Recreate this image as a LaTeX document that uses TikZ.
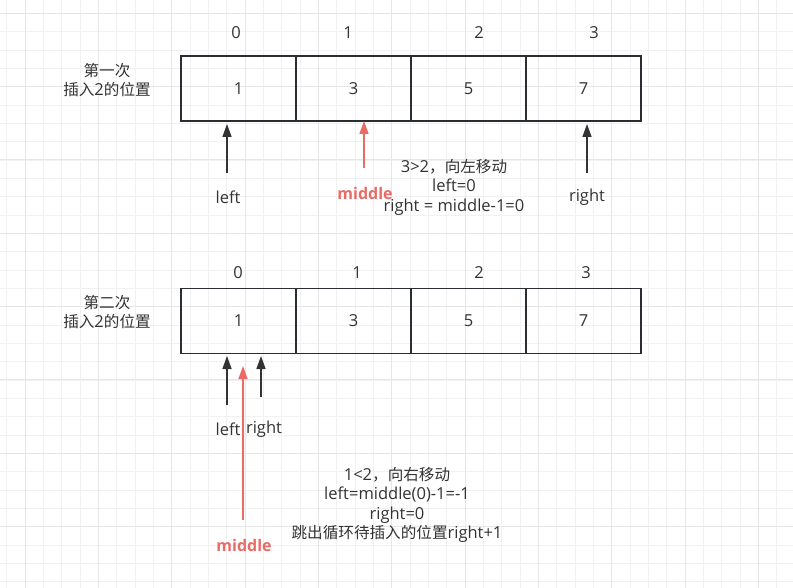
\documentclass[tikz,border=0pt]{standalone}
\usepackage{fontspec}
\setmainfont{Open Sans}
\newfontfamily\cjk{Noto Sans CJK SC}
\usetikzlibrary{arrows.meta}
\definecolor{ink}{HTML}{333333}
\definecolor{boxline}{HTML}{2A2E33}
\definecolor{redc}{HTML}{EA6B66}
\definecolor{gridminor}{HTML}{F1F1F1}
\definecolor{gridmajor}{HTML}{E6E6E6}
\newcommand{\zh}[1]{{\cjk\fontsize{15.6}{19}\selectfont #1}}
\begin{document}
\begin{tikzpicture}[x=1pt,y=-1pt,
  every node/.style={font=\fontsize{16.5}{19.5}\selectfont, text=ink, inner sep=0pt},
  cell/.style={draw=boxline, line width=1.4pt, minimum width=115pt, minimum height=65pt, anchor=center},
  txt/.style={align=center},
  ptr/.style={draw=ink, line width=1.6pt, -{Triangle[length=13pt,width=9pt]}},
  redptr/.style={draw=redc, line width=1.6pt, -{Triangle[length=13pt,width=9pt]}},
  redlbl/.style={text=redc, font=\fontsize{16}{19}\selectfont\bfseries}
]
\useasboundingbox (0,0) rectangle (793,588);
\fill[white] (0,0) rectangle (793,588);
% grid
\foreach \i in {0,...,43} {
  \draw[gridminor, line width=0.8pt] ({6.67+\i*18.333},0) -- ({6.67+\i*18.333},588);
}
\foreach \j in {0,...,32} {
  \draw[gridminor, line width=0.8pt] (0,{13.3+\j*18.333}) -- (793,{13.3+\j*18.333});
}
\foreach \i in {0,...,10} {
  \draw[gridmajor, line width=1pt] ({25+\i*73.333},0) -- ({25+\i*73.333},588);
}
\foreach \j in {0,...,7} {
  \draw[gridmajor, line width=1pt] (0,{13.3+\j*73.333}) -- (793,{13.3+\j*73.333});
}

% ---------- first row ----------
\node[txt] (t1) at (107,80) {\zh{第一次}\\\zh{插入}2\zh{的位置}};
\node (i10) at (236,33) {0};
\node (i11) at (348,33) {1};
\node (i12) at (479,33) {2};
\node (i13) at (594,33) {3};
\node[cell] (a0) at (238.5,88.5) {1};
\node[cell] (a1) at (353.5,88.5) {3};
\node[cell] (a2) at (468.5,88.5) {5};
\node[cell] (a3) at (583.5,88.5) {7};

\coordinate (l1s) at (227,173);
\coordinate (l1e) at (227,124);
\coordinate (m1s) at (364,168);
\coordinate (m1e) at (364,121);
\coordinate (r1s) at (587,173);
\coordinate (r1e) at (587,124);
\draw[ptr] (l1s) -- (l1e);
\draw[redptr] (m1s) -- (m1e);
\draw[ptr] (r1s) -- (r1e);
\node (lab1l) at (228,197) {left};
\node[redlbl] (lab1m) at (365,194) {middle};
\node (lab1r) at (587,197) {right};
\node[txt] (note1) at (454,187) {3>2\zh{，向左移动}\\left=0\\right = middle-1=0};

% ---------- second row ----------
\node[txt] (t2) at (107,312) {\zh{第二次}\\\zh{插入}2\zh{的位置}};
\node (i20) at (238,273) {0};
\node (i21) at (357,273) {1};
\node (i22) at (479,273) {2};
\node (i23) at (586,273) {3};
\node[cell] (b0) at (238.5,321) {1};
\node[cell] (b1) at (353.5,321) {3};
\node[cell] (b2) at (468.5,321) {5};
\node[cell] (b3) at (583.5,321) {7};

\coordinate (l2s) at (227,405);
\coordinate (l2e) at (227,356);
\coordinate (r2s) at (261,397);
\coordinate (r2e) at (261,356);
\coordinate (m2s) at (243,520);
\coordinate (m2e) at (243,366);
\draw[ptr] (l2s) -- (l2e);
\draw[ptr] (r2s) -- (r2e);
\draw[redptr] (m2s) -- (m2e);
\node (lab2l) at (228,429) {left};
\node (lab2r) at (264,429) {right};
\node[redlbl] (lab2m) at (244,545) {middle};
\node[txt] (note2) at (397,505) {1<2\zh{，向右移动}\\left=middle(0)-1=-1\\right=0\\\zh{跳出循环待插入的位置}right+1};
\end{tikzpicture}
\end{document}
